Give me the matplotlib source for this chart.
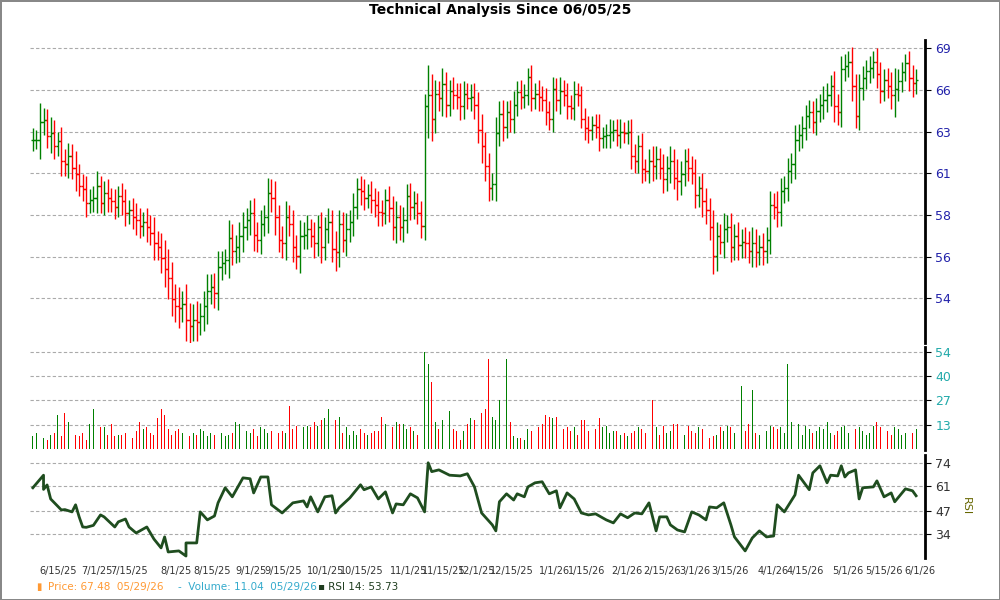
import numpy as np
import pandas as pd
import matplotlib
matplotlib.use("Agg")
from matplotlib import pyplot as plt

# daily closes (06/05/25 - 05/29/26)
closes = [
    63.1, 63.1, 64.2, 64.3, 63.3, 63.5, 62.7, 63.0, 61.8, 61.6,
    62.1, 61.4, 61.0, 60.3, 60.1, 59.3, 59.5, 59.6, 60.3, 59.3,
    59.9, 59.6, 59.4, 59.1, 59.7, 59.4, 58.7, 58.9, 58.5, 58.3,
    58.0, 58.2, 57.9, 57.6, 57.0, 56.8, 56.2, 55.6, 55.1, 54.0,
    53.6, 53.5, 53.7, 52.9, 52.6, 52.9, 52.8, 53.1, 53.6, 54.4,
    54.6, 54.3, 55.7, 55.9, 56.1, 57.3, 56.6, 56.8, 57.4, 57.9,
    58.3, 58.7, 57.5, 57.2, 58.1, 58.5, 59.9, 59.6, 58.5, 57.2,
    57.0, 58.5, 58.1, 56.8, 56.3, 57.4, 57.5, 57.8, 57.4, 57.0,
    57.9, 56.8, 57.8, 58.2, 56.7, 56.5, 58.1, 57.2, 57.8, 58.2,
    59.1, 60.1, 60.0, 59.6, 59.8, 59.5, 59.2, 58.8, 58.7, 59.5,
    59.0, 57.9, 58.5, 57.9, 58.3, 59.7, 59.1, 59.3, 58.7, 58.0,
    65.2, 65.9, 64.4, 66.0, 65.7, 66.6, 65.3, 66.2, 65.9, 65.8,
    65.2, 66.0, 65.7, 65.8, 65.3, 63.7, 62.7, 61.5, 60.2, 60.4,
    63.5, 64.7, 63.9, 64.8, 64.4, 65.3, 66.1, 65.8, 65.9, 67.1,
    65.7, 66.0, 65.8, 65.6, 64.8, 64.4, 66.3, 65.6, 66.2, 65.9,
    65.2, 65.1, 66.0, 65.9, 64.4, 63.8, 63.7, 64.0, 63.9, 63.2,
    63.3, 63.4, 63.6, 63.7, 63.4, 63.6, 63.5, 63.6, 62.1, 61.8,
    62.7, 61.3, 61.2, 61.8, 61.5, 61.9, 61.4, 60.7, 61.4, 61.8,
    60.8, 60.6, 61.0, 61.8, 61.4, 61.1, 59.8, 60.2, 59.4, 58.9,
    57.9, 56.3, 57.4, 57.1, 57.8, 57.9, 56.8, 57.4, 56.9, 57.1,
    57.0, 56.6, 57.0, 56.5, 56.8, 56.6, 57.2, 59.2, 59.1, 58.8,
    60.0, 60.2, 61.2, 61.6, 63.1, 63.4, 63.8, 64.6, 64.8, 64.2,
    64.9, 65.3, 65.6, 65.9, 66.5, 65.2, 64.8, 67.6, 67.8, 68.1,
    66.5, 64.6, 66.4, 67.0, 67.5, 67.7, 68.1, 67.3, 66.2, 66.9,
    66.5, 65.9, 66.3, 66.8, 67.4, 68.0, 67.0, 66.7, 66.9,
]

# bar extensions beyond open/close (high/low wicks)
wicks = [
    0.7, 0.6, 1.2, 0.8, 0.7, 1.0, 0.8, 0.6, 0.9, 0.7,
    0.8, 0.7, 1.0, 0.6, 0.7, 0.8, 0.6, 0.7, 0.9, 0.6,
    0.7, 0.8, 0.6, 0.7, 0.6, 0.8, 0.7, 0.6, 0.7, 0.8,
    0.7, 0.6, 0.8, 0.7, 0.9, 0.7, 0.8, 1.0, 1.1, 0.9,
    0.8, 1.0, 0.7, 1.1, 0.9, 0.8, 1.0, 0.7, 0.8, 0.9,
    0.7, 0.8, 0.9, 0.7, 0.6, 1.0, 0.8, 0.7, 0.8, 0.9,
    0.7, 0.8, 0.9, 0.7, 0.8, 0.7, 0.9, 0.8, 1.0, 0.7,
    0.8, 0.9, 0.7, 0.8, 0.7, 0.9, 0.7, 0.8, 0.6, 0.8,
    0.7, 0.9, 0.7, 0.8, 0.7, 1.0, 0.8, 0.7, 0.9, 0.7,
    0.8, 0.7, 0.8, 0.7, 0.6, 0.8, 0.7, 0.8, 0.7, 0.6,
    0.8, 0.7, 0.9, 0.7, 0.8, 0.7, 0.8, 0.7, 0.6, 0.7,
    0.8, 2.0, 1.4, 0.9, 0.8, 1.1, 0.8, 0.7, 0.9, 0.8,
    0.9, 0.8, 0.7, 0.8, 0.9, 0.8, 1.0, 0.9, 0.8, 0.7,
    1.0, 0.8, 0.9, 0.7, 0.8, 0.9, 0.7, 0.8, 0.7, 0.6,
    0.8, 0.7, 0.9, 0.7, 0.8, 0.7, 0.8, 0.7, 0.9, 0.7,
    0.8, 0.7, 0.8, 0.7, 0.6, 0.7, 0.8, 0.6, 0.7, 0.8,
    0.6, 0.7, 0.8, 0.6, 0.7, 0.8, 0.6, 0.7, 0.8, 0.7,
    0.7, 0.8, 0.6, 0.7, 0.9, 0.8, 0.7, 0.8, 0.7, 0.9,
    0.7, 1.1, 0.8, 0.7, 0.8, 0.7, 0.8, 0.7, 0.9, 0.8,
    0.7, 1.0, 0.8, 0.7, 0.9, 0.7, 0.8, 0.7, 0.8, 0.7,
    0.8, 0.7, 0.9, 0.8, 0.7, 0.8, 0.7, 0.8, 0.7, 0.9,
    0.8, 0.7, 0.8, 0.7, 0.9, 0.7, 0.8, 0.7, 0.8, 0.7,
    0.8, 0.7, 0.9, 0.8, 0.7, 1.0, 0.8, 0.9, 0.8, 0.7,
    1.0, 0.8, 0.9, 0.8, 0.7, 0.8, 0.7, 0.9, 0.8, 0.7,
    0.8, 0.9, 1.4, 0.8, 0.7, 0.6, 0.8, 0.9, 0.7,
]

volumes = [
    7, 9, 10, 6, 5, 8, 9, 19, 7, 20,
    15, 19, 8, 7, 9, 5, 14, 22, 15, 12,
    12, 8, 14, 7, 8, 8, 9, 9, 6, 10,
    15, 11, 12, 9, 8, 17, 22, 19, 11, 8,
    10, 11, 9, 8, 7, 9, 8, 11, 10, 7,
    9, 8, 9, 9, 7, 8, 9, 15, 14, 12,
    10, 9, 11, 7, 12, 11, 9, 10, 8, 9,
    10, 9, 24, 11, 13, 11, 12, 13, 12, 15,
    13, 16, 17, 22, 17, 16, 18, 9, 12, 8,
    10, 8, 11, 9, 8, 9, 10, 10, 18, 14,
    11, 12, 15, 14, 14, 11, 12, 10, 8, 14,
    54, 47, 37, 15, 11, 16, 13, 21, 11, 10,
    5, 10, 14, 17, 16, 18, 20, 22, 50, 18,
    16, 27, 22, 50, 15, 7, 6, 6, 5, 11,
    10, 13, 12, 14, 19, 18, 17, 18, 14, 11,
    12, 10, 12, 8, 16, 16, 10, 13, 11, 17,
    12, 13, 9, 10, 10, 8, 9, 7, 9, 10,
    12, 11, 9, 10, 27, 12, 8, 13, 9, 10,
    14, 14, 8, 8, 13, 10, 9, 12, 11, 22,
    6, 7, 8, 12, 10, 13, 12, 9, 10, 35,
    10, 14, 33, 9, 8, 14, 10, 13, 12, 11,
    12, 9, 47, 15, 10, 14, 8, 13, 11, 9,
    10, 12, 11, 15, 9, 8, 10, 12, 13, 9,
    8, 11, 12, 10, 8, 9, 13, 15, 12, 9,
    10, 8, 12, 11, 8, 9, 10, 9, 11,
]

# RSI 14: bar index and value
rsi_bar = [0, 3, 3, 4, 5, 8, 9, 11, 12, 13, 14, 15, 17, 19, 20, 23, 24, 26, 27, 29,
           32, 34, 36, 37, 38, 41, 43, 43, 46, 47, 49, 51, 52, 54, 56, 59, 61, 62, 64,
           66, 67, 70, 73, 76, 77, 78, 80, 82, 84, 85, 86, 89, 92, 93, 95, 97, 99, 101,
           102, 104, 106, 108, 110, 111, 112, 114, 117, 120, 122, 124, 126, 129, 130,
           131, 133, 135, 136, 138, 139, 141, 143, 145, 147, 148, 150, 152, 154, 156,
           158, 161, 163, 165, 167, 169, 171, 173, 175, 176, 178, 179, 181, 183, 185,
           187, 189, 190, 192, 194, 196, 197, 200, 202, 204, 206, 208, 209, 211, 214,
           215, 218, 219, 221, 223, 224, 226, 227, 228, 229, 231, 232, 233, 236, 237,
           239, 241, 242, 245, 247, 248]
rsi_vals = [59.9, 67.0, 59.0, 61.5, 53.6, 47.4, 47.6, 46.3, 50.3, 43.5, 37.8, 37.6,
            38.7, 44.6, 43.5, 37.8, 40.7, 42.3, 37.8, 34.4, 37.8, 31.0, 26.0, 32.2,
            23.7, 24.3, 21.4, 28.8, 28.8, 46.3, 41.8, 44.0, 51.4, 59.9, 54.8, 65.5,
            65.0, 57.0, 66.0, 66.0, 50.3, 45.7, 51.4, 52.5, 49.1, 54.8, 46.3, 54.8,
            55.4, 45.7, 48.6, 54.2, 61.6, 58.8, 60.4, 53.6, 57.6, 45.7, 50.8, 50.3,
            56.5, 54.2, 46.3, 74.0, 69.0, 70.0, 67.0, 66.6, 67.8, 60.4, 45.7, 39.0,
            35.6, 52.0, 56.5, 53.0, 56.5, 54.8, 60.4, 62.7, 63.3, 56.5, 58.2, 48.6,
            57.0, 53.6, 45.7, 44.6, 45.2, 41.8, 40.1, 45.2, 43.0, 45.7, 45.2, 51.4,
            35.6, 43.5, 43.5, 39.0, 36.1, 35.0, 46.3, 44.6, 41.8, 49.1, 48.6, 51.4,
            39.0, 32.2, 24.3, 31.6, 35.6, 32.2, 32.7, 50.3, 46.3, 55.9, 67.0, 58.8,
            68.3, 72.3, 62.7, 67.0, 66.6, 72.3, 66.0, 68.3, 70.0, 53.6, 59.9, 60.4,
            63.8, 54.8, 57.0, 52.0, 59.3, 58.2, 55.4, 53.7]

date_labels = ["6/15/25", "7/1/25", "7/15/25", "8/1/25", "8/15/25", "9/1/25",
               "9/15/25", "10/1/25", "10/15/25", "11/1/25", "11/15/25", "12/1/25",
               "12/15/25", "1/1/26", "1/15/26", "2/1/26", "2/15/26", "3/1/26",
               "3/15/26", "4/1/26", "4/15/26", "5/1/26", "5/15/26", "6/1/26"]
holidays = ["2025-07-04", "2025-09-01", "2025-11-27", "2025-12-25", "2026-01-01",
            "2026-01-19", "2026-02-16", "2026-04-03", "2026-05-25"]

closes = np.array(closes)
n = len(closes)
wicks = np.array(wicks[:n] + [0.7] * max(0, n - len(wicks)))
volumes = np.array(volumes[:n] + [9] * max(0, n - len(volumes)))
opens = np.concatenate([[closes[0]], closes[:-1]])
highs = np.maximum(opens, closes) + wicks
lows = np.minimum(opens, closes) - wicks
up = closes >= opens
colors = np.where(up, "#008000", "#ff0000")
x = np.arange(n)
m = min(len(rsi_bar), len(rsi_vals))

cal = pd.bdate_range("2025-06-05", "2026-05-29", freq="C", holidays=holidays)
tick_pos = [cal.searchsorted(pd.to_datetime(d, format="%m/%d/%y")) * (n - 1) / (len(cal) - 1)
            for d in date_labels]

fig = plt.figure(figsize=(10, 6), dpi=100)
fig.patch.set_edgecolor("#888888")
fig.patch.set_linewidth(2)

left, width = 0.03, 0.895
ax_p = fig.add_axes([left, 0.428, width, 0.505])
ax_v = fig.add_axes([left, 0.25, width, 0.172])
ax_r = fig.add_axes([left, 0.07, width, 0.172])

for ax in (ax_p, ax_v, ax_r):
    for s in ("left", "top", "bottom"):
        ax.spines[s].set_visible(False)
    ax.spines["right"].set_linewidth(2)
    ax.yaxis.tick_right()
    ax.set_xlim(-0.8, n + 1.5)
    ax.tick_params(axis="x", length=0)
    ax.tick_params(axis="y", length=4, labelsize=9)
    ax.grid(axis="y", color="#aaaaaa", linestyle=(0, (3, 2)), linewidth=0.8)
    ax.set_axisbelow(True)

# price bars
ax_p.set_yscale("log")
ax_p.vlines(x, lows, highs, colors=colors, linewidth=1.0)
ax_p.hlines(opens, x - 0.6, x, colors=colors, linewidth=1.0)
ax_p.hlines(closes, x, x + 0.6, colors=colors, linewidth=1.0)
price_ticks = 69 * np.exp(-0.0408 * np.arange(7))
ax_p.set_yticks(price_ticks)
ax_p.set_yticklabels([str(int(t)) for t in price_ticks], color="#2222aa")
ax_p.minorticks_off()
ax_p.set_ylim(51.7, 69.55)
ax_p.set_xticks([])

# volume
ax_v.bar(x, volumes, width=0.25, color=colors)
ax_v.set_ylim(-0.5, 56.8)
ax_v.set_yticks([13.5, 27, 40.5, 54])
ax_v.set_yticklabels(["13", "27", "40", "54"], color="#22aaaa")
ax_v.set_xticks([])

# RSI
ax_r.plot(rsi_bar[:m], rsi_vals[:m], color="#1f4d1f", linewidth=2)
ax_r.set_ylim(20.3, 78.5)
ax_r.set_yticks([34, 47, 61, 74])
ax_r.set_yticklabels(["34", "47", "61", "74"], color="#333333")
ax_r.set_xticks(tick_pos)
ax_r.set_xticklabels(date_labels, fontsize=7, color="#333333")
ax_r.tick_params(axis="x", pad=6)
ax_r.set_ylabel("RSI", rotation=-90, color="#666600", fontsize=8, labelpad=14)
ax_r.yaxis.set_label_position("right")

fig.text(0.5, 0.983, "Technical Analysis Since 06/05/25", ha="center", va="center",
         fontsize=10, fontweight="bold")
fig.text(0.036, 0.022, "\u25AE", color="#ff9933", fontsize=7, va="center")
fig.text(0.048, 0.022, "Price: 67.48  05/29/26", color="#ff9933", fontsize=7.5, va="center")
fig.text(0.178, 0.022, "-  Volume: 11.04  05/29/26", color="#33aacc", fontsize=7.5, va="center")
fig.text(0.318, 0.022, "\u25AA RSI 14: 53.73", color="#1f3d1f", fontsize=7.5, va="center")

fig.savefig("out.png", dpi=100, edgecolor=fig.get_edgecolor())
